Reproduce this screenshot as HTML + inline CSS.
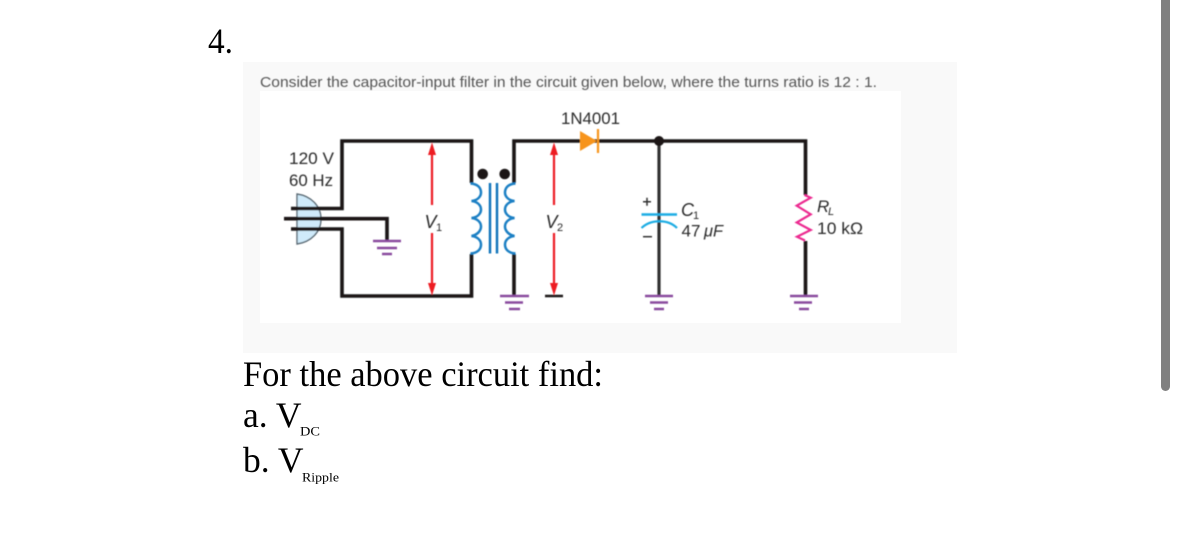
<!DOCTYPE html>
<html>
<head>
<meta charset="utf-8">
<style>
html,body{margin:0;padding:0;background:#fff;width:1179px;height:539px;overflow:hidden}
svg{display:block}
.d text{font-family:"Liberation Sans",sans-serif;fill:#2a2a2a}
.s{font-family:"Liberation Serif",serif;fill:#000}
</style>
</head>
<body>
<svg width="1179" height="539" viewBox="0 0 1179 539" xmlns="http://www.w3.org/2000/svg">
<defs><filter id="b" filterUnits="userSpaceOnUse" x="243" y="62" width="714" height="291"><feGaussianBlur stdDeviation="0.4"/></filter></defs>
<rect x="243" y="62" width="714" height="291" fill="#f9f9f9"/>
<rect x="260" y="91" width="641" height="232" fill="#fff"/>
<rect x="1161" y="-10" width="9" height="401" rx="4.5" fill="#808080"/>

<text class="s" x="208" y="53" font-size="36" textLength="25" lengthAdjust="spacingAndGlyphs">4.</text>
<g filter="url(#b)">
<text x="260" y="87" font-family="Liberation Sans,sans-serif" font-size="15" fill="#555" textLength="617" lengthAdjust="spacingAndGlyphs">Consider the capacitor-input filter in the circuit given below, where the turns ratio is 12 : 1.</text>
</g>

<g class="d" filter="url(#b)">
<!-- plug -->
<path d="M297 194 C311 196 321 206 321 219 C321 232 311 242 297 244 Z" fill="#cfeafa" stroke="#5b6b75" stroke-width="1.4"/>
<!-- black wires -->
<g fill="none" stroke="#1a1718" stroke-width="3.6">
<path d="M291 208.500H342V141H471.500V183"/>
<path d="M291 229H342V296H471.500V254"/>
<path d="M284 218.700H387V240"/>
<path d="M514 183V141H805.500V195"/>
<path d="M514 254V296"/>
<path d="M659 141V296" stroke="#333" stroke-width="3.200"/>
<path d="M805.500 241V296"/>
<path d="M545 296H563" stroke-width="2.400"/>
</g>
<circle cx="659" cy="141" r="5" fill="#1a1718"/>
<circle cx="482.700" cy="174" r="5.300" fill="#1a1718"/>
<circle cx="504.700" cy="174" r="5.300" fill="#1a1718"/>
<!-- coils -->
<g fill="none" stroke="#1d80c4" stroke-width="2.500">
<path d="M470.500 183.500C478 184 481 188 481 192.500C481 197 477 200.500 471.500 201C477 201.500 481 205 481 209.500C481 214 477 217.500 471.500 218C477 218.500 481 222 481 226.500C481 231 477 235 471.500 236C477 236.500 481 240 481 244.500C481 249 478 253 470.500 253.500"/>
<path d="M515.500 183.500C508 184 505 188 505 192.500C505 197 509 200.500 514.500 201C509 201.500 505 205 505 209.500C505 214 509 217.500 514.500 218C509 218.500 505 222 505 226.500C505 231 509 235 514.500 236C509 236.500 505 240 505 244.500C505 249 508 253 515.500 253.500"/>
</g>
<path d="M490 183V253.500M497 183V253.500" stroke="#0a72ba" stroke-width="2.400" fill="none"/>
<!-- red arrows -->
<g stroke="#ed1c24" stroke-width="2.200" fill="none">
<path d="M432 150V205M432 233V288"/>
<path d="M554 150V205M554 233V288"/>
</g>
<g fill="#ed1c24">
<path d="M432 142.500L428 155H436Z"/>
<path d="M432 295.500L428 283H436Z"/>
<path d="M554 142.500L550 155H558Z"/>
<path d="M554 295.500L550 283H558Z"/>
</g>
<!-- diode -->
<path d="M580 131L597 141L580 151Z" fill="#f7941d"/>
<path d="M598 129V153" stroke="#f7941d" stroke-width="2.200"/>
<!-- cap -->
<path d="M641.500 214.500H677" stroke="#1cace3" stroke-width="2.600" fill="none"/>
<path d="M641.500 228C651 219 668 219 677 228" stroke="#1cace3" stroke-width="2.200" fill="none"/>
<!-- resistor -->
<path d="M804.500 195L810.700 197.700L796.700 205.700L810.700 214.300L796.700 222.500L810.700 230L797 236.700L805 240.500" stroke="#ec2a90" stroke-width="2.200" fill="none"/>
<!-- grounds -->
<g stroke="#8a4b9e" stroke-width="2.400" fill="none">
<path d="M373 241H401M377 248H397M382 254H392"/>
<path d="M500 296H529M505 302.500H523M509 309H520"/>
<path d="M645 296H673M650 302.500H668M654 309H664"/>
<path d="M790 296H818M794 302.500H812M799 309H809"/>
</g>
<!-- labels -->
<text x="561" y="124" font-size="17" textLength="59" lengthAdjust="spacingAndGlyphs">1N4001</text>
<text x="289" y="164" font-size="17" textLength="45" lengthAdjust="spacingAndGlyphs">120 V</text>
<text x="289" y="186" font-size="17" textLength="44" lengthAdjust="spacingAndGlyphs">60 Hz</text>
<text x="424.500" y="228" font-size="18" font-style="italic">V</text><text x="436" y="231" font-size="11">1</text>
<text x="545.500" y="228" font-size="18" font-style="italic">V</text><text x="557" y="231" font-size="11">2</text>
<text x="681" y="216" font-size="18" font-style="italic">C</text><text x="693" y="219" font-size="11">1</text>
<text x="681.500" y="236.700" font-size="17">47</text>
<text x="704" y="236.700" font-size="17" font-style="italic" textLength="19" lengthAdjust="spacingAndGlyphs">μF</text>
<text x="817" y="212" font-size="17" font-style="italic">R</text><text x="828" y="215" font-size="11" font-style="italic">L</text>
<text x="817" y="234" font-size="17" textLength="46" lengthAdjust="spacingAndGlyphs">10 kΩ</text>
<path d="M643 201.700H651M647 197.700V205.700" stroke="#333" stroke-width="1.500"/>
<path d="M643 236.700H652" stroke="#333" stroke-width="1.500"/>
</g>

<text class="s" x="243" y="386" font-size="36" textLength="360" lengthAdjust="spacingAndGlyphs">For the above circuit find:</text>
<text class="s" x="243" y="427" font-size="35.500">a. V</text>
<text class="s" x="300" y="435.500" font-size="12.500" textLength="20" lengthAdjust="spacingAndGlyphs">DC</text>
<text class="s" x="243" y="472" font-size="35.500">b. V</text>
<text class="s" x="302" y="481.500" font-size="13" textLength="37" lengthAdjust="spacingAndGlyphs">Ripple</text>
</svg>
</body>
</html>
